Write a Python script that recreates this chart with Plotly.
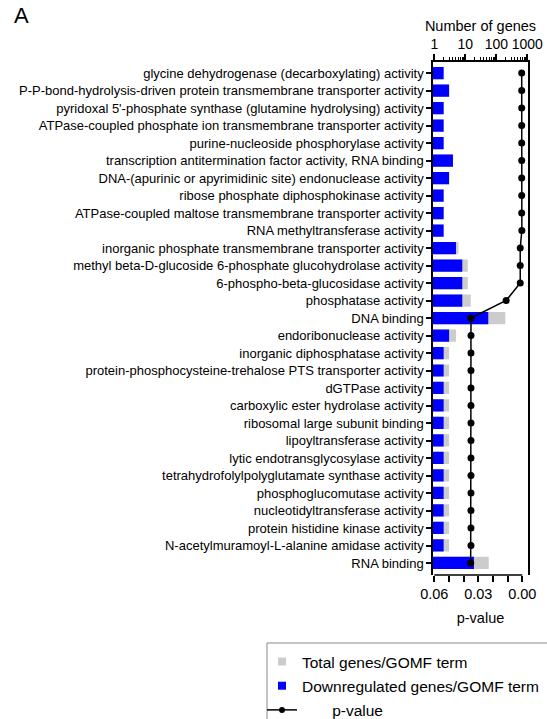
import plotly.graph_objects as go

terms = [
    "glycine dehydrogenase (decarboxylating) activity",
    "P-P-bond-hydrolysis-driven protein transmembrane transporter activity",
    "pyridoxal 5'-phosphate synthase (glutamine hydrolysing) activity",
    "ATPase-coupled phosphate ion transmembrane transporter activity",
    "purine-nucleoside phosphorylase activity",
    "transcription antitermination factor activity, RNA binding",
    "DNA-(apurinic or apyrimidinic site) endonuclease activity",
    "ribose phosphate diphosphokinase activity",
    "ATPase-coupled maltose transmembrane transporter activity",
    "RNA methyltransferase activity",
    "inorganic phosphate transmembrane transporter activity",
    "methyl beta-D-glucoside 6-phosphate glucohydrolase activity",
    "6-phospho-beta-glucosidase activity",
    "phosphatase activity",
    "DNA binding",
    "endoribonuclease activity",
    "inorganic diphosphatase activity",
    "protein-phosphocysteine-trehalose PTS transporter activity",
    "dGTPase activity",
    "carboxylic ester hydrolase activity",
    "ribosomal large subunit binding",
    "lipoyltransferase activity",
    "lytic endotransglycosylase activity",
    "tetrahydrofolylpolyglutamate synthase activity",
    "phosphoglucomutase activity",
    "nucleotidyltransferase activity",
    "protein histidine kinase activity",
    "N-acetylmuramoyl-L-alanine amidase activity",
    "RNA binding",
]

total_genes = [2, 3, 2, 2, 2, 4, 3, 2, 2, 2, 6, 12, 12, 15, 195, 5,
               3, 3, 3, 3, 3, 3, 3, 3, 3, 3, 3, 3, 57]
down_genes = [2, 3, 2, 2, 2, 4, 3, 2, 2, 2, 5, 8, 8, 8, 55, 3,
              2, 2, 2, 2, 2, 2, 2, 2, 2, 2, 2, 2, 19]
p_values = [0.0004, 0.0004, 0.0004, 0.0004, 0.0004, 0.0004, 0.0004, 0.0004,
            0.0004, 0.0003, 0.0014, 0.0014, 0.0014, 0.011, 0.035, 0.035,
            0.035, 0.035, 0.035, 0.035, 0.035, 0.035, 0.035, 0.035, 0.035,
            0.035, 0.035, 0.035, 0.0352]

count_ticks = [1, 10, 100, 1000]
p_ticks = [0.06, 0.05, 0.04, 0.03, 0.02, 0.01, 0.0]
p_ticktext = ["0.06", "", "", "0.03", "", "", "0.00"]

W, H = 547, 719
L, R, T, B = 433, 528, 62, 575


def px(x):
    return (x - L) / (R - L)


def py(y):
    return (B - y) / (B - T)


FONT = "Liberation Sans, Arial, sans-serif"
GRAY = "#cccccc"
BLUE = "#0000ff"

fig = go.Figure()
fig.add_trace(go.Bar(x=total_genes, y=terms, orientation="h", xaxis="x", yaxis="y",
                     marker=dict(color=GRAY, line=dict(width=0)), width=0.7,
                     showlegend=False, name="Total genes/GOMF term"))
fig.add_trace(go.Bar(x=down_genes, y=terms, orientation="h", xaxis="x", yaxis="y",
                     marker=dict(color=BLUE, line=dict(width=0)), width=0.7,
                     showlegend=False, name="Downregulated genes/GOMF term"))
fig.add_trace(go.Scatter(x=p_values, y=terms, xaxis="x2", yaxis="y", mode="lines+markers",
                         line=dict(color="black", width=1.5),
                         marker=dict(color="black", size=7),
                         showlegend=False, name="p-value"))
# legend entries
fig.add_trace(go.Scatter(x=[None], y=[None], xaxis="x2", yaxis="y", mode="markers",
                         marker=dict(symbol="square", color=GRAY, size=8),
                         name="Total genes/GOMF term", legendgroup="a"))
fig.add_trace(go.Scatter(x=[None], y=[None], xaxis="x2", yaxis="y", mode="markers",
                         marker=dict(symbol="square", color=BLUE, size=8),
                         name="Downregulated genes/GOMF term", legendgroup="b"))
fig.add_trace(go.Scatter(x=[None], y=[None], xaxis="x2", yaxis="y", mode="lines+markers",
                         line=dict(color="black", width=1.5),
                         marker=dict(color="black", size=6),
                         name="\u00a0" * 7 + "p-value", legendgroup="c"))

minor_counts = [m * 10 ** e for e in range(3) for m in range(2, 10)]

fig.update_layout(
    width=W, height=H,
    margin=dict(l=L, r=W - R, t=T, b=H - B, pad=0, autoexpand=False),
    paper_bgcolor="white", plot_bgcolor="white",
    font=dict(family=FONT, color="black", size=13),
    barmode="overlay",
    bargap=0.3,
    xaxis=dict(type="log", side="top", range=[-0.042, 3.022], automargin=False,
               tickangle=0,
               tickvals=count_ticks, ticktext=["1", "10", "100", "1000"],
               tickfont=dict(size=14), ticks="outside", ticklen=6, tickwidth=1.5,
               tickcolor="black", showline=True, linecolor="black", linewidth=1.5,
               showgrid=False, zeroline=False,
               minor=dict(tickvals=minor_counts, ticks="outside", ticklen=3,
                          tickwidth=1, tickcolor="black", showgrid=False),
               title=dict(text="Number of genes", font=dict(size=14.5), standoff=1)),
    xaxis2=dict(overlaying="x", side="bottom", anchor="y", range=[0.0609, -0.0039],
                automargin=False, tickangle=0,
                tickvals=p_ticks, ticktext=p_ticktext, tickfont=dict(size=14.5),
                ticks="outside", ticklen=6, tickwidth=1.5, tickcolor="black",
                showline=False, showgrid=False, zeroline=False,
                title=dict(text="p-value", font=dict(size=14.5), standoff=11)),
    yaxis=dict(type="category", categoryorder="array", categoryarray=terms,
               range=[28.686, -0.629], ticks="outside", ticklen=5, tickwidth=1.5,
               automargin=False,
               tickcolor="black", showline=True, linecolor="black", linewidth=1.5,
               mirror=True, showgrid=False, zeroline=False, tickfont=dict(size=13)),
    legend=dict(x=px(262), y=py(645), xanchor="left", yanchor="top",
                font=dict(size=15.5), bgcolor="rgba(0,0,0,0)", borderwidth=0,
                tracegroupgap=1, traceorder="grouped"),
    annotations=[dict(text="A", xref="paper", yref="paper", x=px(12), y=py(15),
                      xanchor="left", yanchor="middle", showarrow=False,
                      font=dict(size=22))],
    shapes=[
        dict(type="line", xref="x2", yref="paper", x0=0.06, x1=0.0, y0=0, y1=0,
             line=dict(color="black", width=1.5)),
        dict(type="rect", xref="paper", yref="paper", x0=px(267), x1=px(570),
             y0=py(643), y1=py(740), line=dict(color="#888888", width=1),
             fillcolor="rgba(0,0,0,0)"),
    ],
)

fig.write_html("out.html", config={"displayModeBar": False},
               post_script="document.body.style.margin='0';document.body.style.overflow='hidden';")
